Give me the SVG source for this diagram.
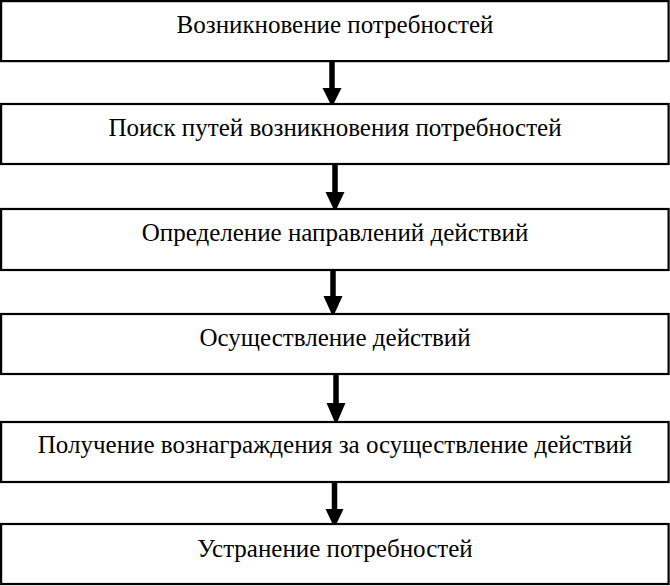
<svg xmlns="http://www.w3.org/2000/svg" width="670" height="586" viewBox="0 0 670 586">
<defs>
<style>
.box{fill:#fff;stroke:#000;stroke-width:2.2}
.lbl{font-family:"Liberation Serif","Times New Roman",serif;font-size:25px;fill:#000;text-anchor:middle}
.shaft{stroke:#000;stroke-width:5.5;fill:none}
.head{fill:#000}
</style>
</defs>
<rect width="670" height="586" fill="#fff"/>
<g id="connectors">
<line class="shaft" x1="332" y1="61" x2="332" y2="90"/>
<polygon class="head" points="322.5,88 341.5,88 332,107"/>
<line class="shaft" x1="335" y1="164" x2="335" y2="194"/>
<polygon class="head" points="325.5,192 344.5,192 335,212"/>
<line class="shaft" x1="333" y1="270" x2="333" y2="298"/>
<polygon class="head" points="323.5,296 342.5,296 333,317"/>
<line class="shaft" x1="336" y1="374" x2="336" y2="405"/>
<polygon class="head" points="326.5,403 345.5,403 336,425"/>
<line class="shaft" x1="334.5" y1="482" x2="334.5" y2="511"/>
<polygon class="head" points="325.5,509 343.5,509 334.5,528"/>
</g>
<g id="n1"><rect class="box" x="1.1" y="1.1" width="667.5" height="60"/><text class="lbl" x="335" y="33">Возникновение потребностей</text></g>
<g id="n2"><rect class="box" x="1.1" y="104" width="667.5" height="60"/><text class="lbl" x="335" y="136">Поиск путей возникновения потребностей</text></g>
<g id="n3"><rect class="box" x="1.1" y="209" width="667.5" height="61"/><text class="lbl" x="335" y="241">Определение направлений действий</text></g>
<g id="n4"><rect class="box" x="1.1" y="314" width="667.5" height="60"/><text class="lbl" x="335" y="346">Осуществление действий</text></g>
<g id="n5"><rect class="box" x="1.1" y="422" width="667.5" height="60"/><text class="lbl" x="335" y="453">Получение вознаграждения за осуществление действий</text></g>
<g id="n6"><rect class="box" x="1.1" y="524" width="667.5" height="60"/><text class="lbl" x="335" y="557">Устранение потребностей</text></g>
</svg>
